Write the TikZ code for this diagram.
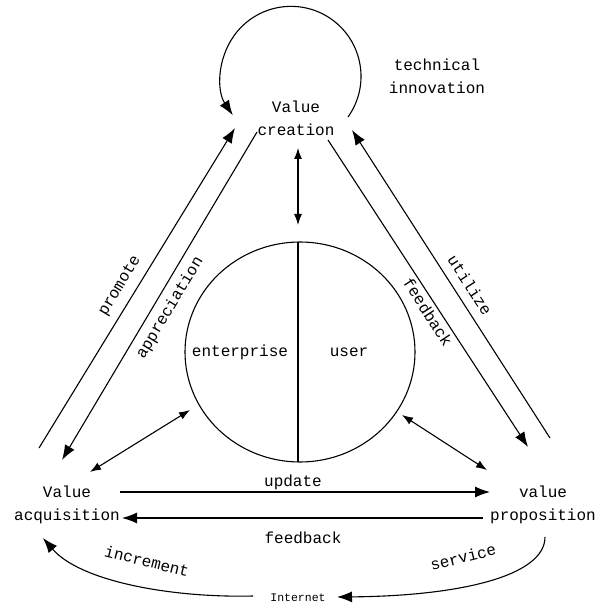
\documentclass[tikz,border=0pt]{standalone}
\usepackage{fontspec}
\newfontfamily\monofam{Liberation Mono}
\usetikzlibrary{arrows.meta,shapes.geometric}
\begin{document}
\begin{tikzpicture}[x=1pt,y=1pt,
  txt/.style={font=\monofam\fontsize{16}{23}\selectfont, inner sep=0pt, align=center},
  big/.style={line width=1.1pt, -{Latex[length=15pt,width=11pt]}},
  dbl/.style={line width=1.1pt, {Latex[length=11pt,width=8pt]}-{Latex[length=11pt,width=8pt]}}]
\useasboundingbox (0,0) rectangle (608,606);
\fill[white] (0,0) rectangle (608,606);
% central circle
\node[draw, line width=1.1pt, ellipse, minimum width=230pt, minimum height=220pt, inner sep=0pt] (core) at (300,254) {};
\coordinate (ctop) at (298,364);
\coordinate (cbot) at (298,144);
\draw[line width=1.1pt] (ctop) -- (cbot);
\node[txt] (ent) at (240,254) {enterprise};
\node[txt] (usr) at (349,254) {user};
% nodes
\node[txt] (vc) at (296,488) {Value\\creation};
\node[txt] (ti) at (437,529.5) {technical\\innovation};
\node[txt] (va) at (67,101.5) {Value\\acquisition};
\node[txt] (vp) at (543,101.5) {value\\proposition};
\node[font=\monofam\fontsize{11.5}{12}\selectfont, inner sep=0pt] (inet) at (298,8) {Internet};
% self loop
\draw[big] (348,489) arc[start angle=-35.5, end angle=213.7, radius=70];
% vertical double arrow
\coordinate (v1) at (298,458);
\coordinate (v2) at (298,381);
\draw[dbl] (v1) -- (v2);
% left pair
\coordinate (p1) at (39,158);
\coordinate (p2) at (235,478);
\draw[big] (p1) -- (p2);
\coordinate (a1) at (257,474);
\coordinate (a2) at (62,146);
\draw[big] (a1) -- (a2);
\node[txt, rotate=59] (prom) at (120,320) {promote};
\node[txt, rotate=59] (appr) at (170,298) {appreciation};
% right pair
\coordinate (f1) at (328,466);
\coordinate (f2) at (528,159);
\draw[big] (f1) -- (f2);
\coordinate (u1) at (550,168);
\coordinate (u2) at (352,476);
\draw[big] (u1) -- (u2);
\node[txt, rotate=-57] (util) at (470,321) {utilize};
\node[txt, rotate=-57] (fdr) at (428,294) {feedback};
% diagonal double arrows
\coordinate (l1) at (190,196);
\coordinate (l2) at (90,134);
\draw[dbl] (l1) -- (l2);
\coordinate (r1) at (402,191);
\coordinate (r2) at (487,136);
\draw[dbl] (r1) -- (r2);
% bottom arrows
\coordinate (up1) at (120,114);
\coordinate (up2) at (490,114);
\draw[big] (up1) -- (up2);
\node[txt] (upd) at (293,124) {update};
\coordinate (fb1) at (483,88);
\coordinate (fb2) at (122,88);
\draw[big] (fb1) -- (fb2);
\node[txt] (fbb) at (303,68) {feedback};
% curves
\coordinate (c1) at (253,10);
\coordinate (c2) at (43,68);
\draw[big] (c1) .. controls (170,8) and (80,25) .. (c2);
\node[txt, rotate=-14] (inc) at (147,45) {increment};
\coordinate (s1) at (545,69);
\coordinate (s2) at (337,9);
\draw[big] (s1) .. controls (545,30) and (460,10) .. (s2);
\node[txt, rotate=14] (srv) at (463,49) {service};
\end{tikzpicture}
\end{document}
